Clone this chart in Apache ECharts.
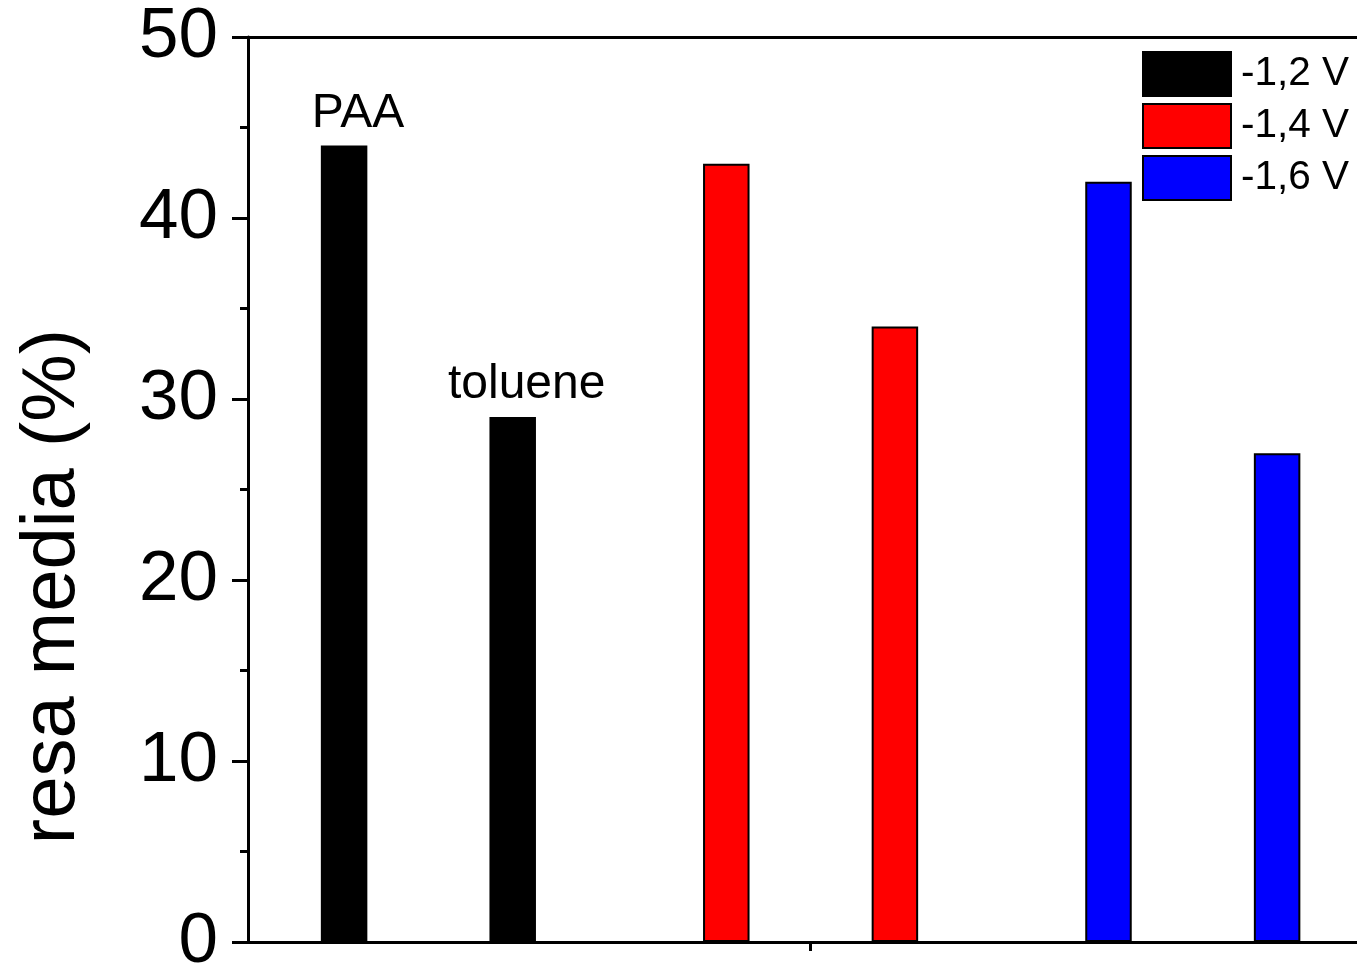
<!DOCTYPE html>
<html>
<head>
<meta charset="utf-8">
<script src="https://cdn.jsdelivr.net/npm/echarts@6/dist/echarts.min.js"></script>
<style>
html,body{margin:0;padding:0;background:#fff;}
#chart{width:1357px;height:970px;}
</style>
</head>
<body>
<div id="chart"></div>
<script>
// ---- data ----
const voltages = ['-1,2 V', '-1,4 V', '-1,6 V'];
const voltageColors = ['#000000', '#ff0000', '#0000ff'];
const products = ['PAA', 'toluene'];
const paaValues = [44, 43, 42];
const tolueneValues = [29, 34, 27];
const yTicks = [0, 10, 20, 30, 40, 50];
const yAxisTitle = 'resa media (%)';

const FONT = '"Liberation Sans", Arial, Helvetica, sans-serif';
const valuesByProduct = [paaValues, tolueneValues];

const chart = echarts.init(document.getElementById('chart'), null, {renderer: 'canvas'});

const mainSeries = products.map((p, pi) => ({
  name: p,
  type: 'bar',
  xAxisIndex: 0,
  yAxisIndex: 0,
  barWidth: 46.5,
  barGap: '262.6%',
  data: valuesByProduct[pi].map((v, ci) => ({
    value: v,
    itemStyle: {color: voltageColors[ci], borderColor: '#000', borderWidth: 2},
    label: {
      show: ci === 0,
      position: 'top',
      distance: 8,
      offset: [14, 0],
      formatter: p,
      color: '#000',
      fontSize: 48,
      fontFamily: FONT
    }
  })),
  silent: true
}));

const legendSeries = voltages.map((v, i) => ({
  name: v,
  type: 'bar',
  xAxisIndex: 2,
  yAxisIndex: 1,
  data: [],
  itemStyle: {color: voltageColors[i], borderColor: '#000', borderWidth: 2}
}));

const option = {
  backgroundColor: '#fff',
  animation: false,
  grid: [
    {left: 237.3, top: 37, width: 1146.6, height: 905, containLabel: false, outerBoundsMode: 'none'},
    {left: -200, top: -200, width: 10, height: 10, show: false, outerBoundsMode: 'none'}
  ],
  legend: {
    data: voltages,
    orient: 'vertical',
    left: 1142,
    top: 51,
    padding: 0,
    itemWidth: 88,
    itemHeight: 44,
    itemGap: 6,
    icon: 'rect',
    selectedMode: false,
    textStyle: {fontSize: 40.5, color: '#000', fontFamily: FONT, padding: [0, 0, 0, 5]}
  },
  xAxis: [
    {
      type: 'category',
      gridIndex: 0,
      data: voltages,
      position: 'bottom',
      axisLine: {show: true, lineStyle: {color: '#000', width: 3}},
      axisTick: {
        show: true,
        alignWithLabel: true,
        inside: false,
        length: 9,
        interval: function (index) { return index === 1; },
        lineStyle: {color: '#000', width: 3}
      },
      axisLabel: {show: false},
      splitLine: {show: false}
    },
    {
      type: 'category',
      gridIndex: 0,
      data: voltages,
      position: 'top',
      axisLine: {show: true, lineStyle: {color: '#000', width: 3}},
      axisTick: {show: false},
      axisLabel: {show: false},
      splitLine: {show: false}
    },
    {type: 'category', gridIndex: 1, show: false, data: ['a']}
  ],
  yAxis: [
    {
      type: 'value',
      gridIndex: 0,
      min: yTicks[0],
      max: yTicks[yTicks.length - 1],
      interval: yTicks[1] - yTicks[0],
      offset: -10.7,
      name: yAxisTitle,
      nameLocation: 'middle',
      nameGap: 157,
      nameTextStyle: {fontSize: 76, color: '#000', fontFamily: FONT, padding: [0, 194, 0, 0]},
      axisLine: {show: true, lineStyle: {color: '#000', width: 3}},
      axisTick: {show: true, inside: false, length: 16, lineStyle: {color: '#000', width: 3}},
      minorTick: {show: true, splitNumber: 2, length: 8, lineStyle: {color: '#000', width: 3}},
      axisLabel: {show: true, fontSize: 71, color: '#000', fontFamily: FONT, margin: 30},
      splitLine: {show: false}
    },
    {type: 'value', gridIndex: 1, show: false}
  ],
  series: mainSeries.concat(legendSeries)
};

chart.setOption(option);
</script>
</body>
</html>
